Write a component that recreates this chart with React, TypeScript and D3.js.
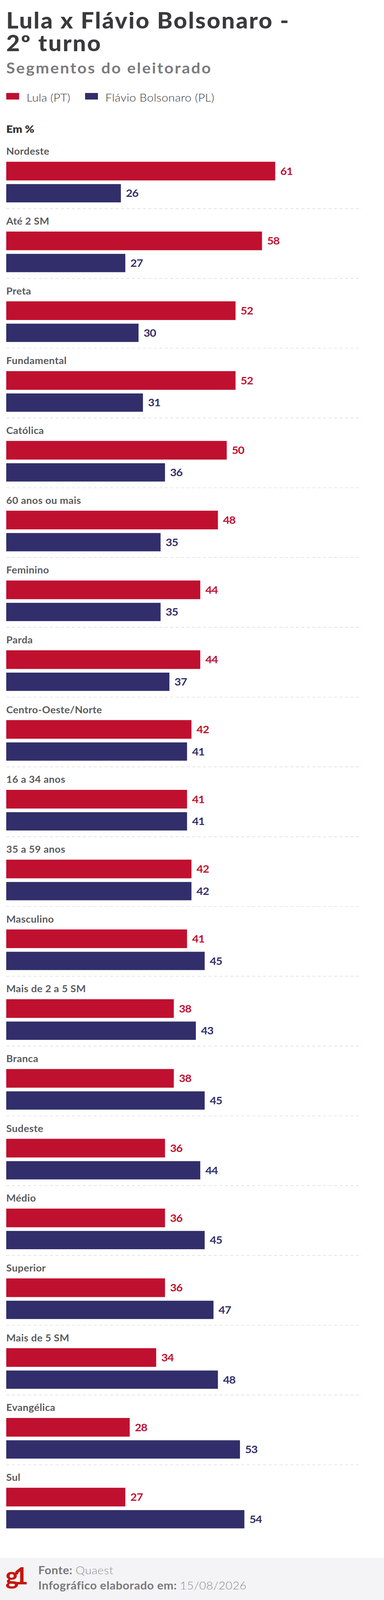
import { useRef, useEffect } from "react";
import * as d3 from "d3";

const categories = [
  "Nordeste", "Até 2 SM", "Preta", "Fundamental", "Católica", "60 anos ou mais",
  "Feminino", "Parda", "Centro-Oeste/Norte", "16 a 34 anos", "35 a 59 anos",
  "Masculino", "Mais de 2 a 5 SM", "Branca", "Sudeste", "Médio", "Superior",
  "Mais de 5 SM", "Evangélica", "Sul",
];
const lulaValues = [61, 58, 52, 52, 50, 48, 44, 44, 42, 41, 42, 41, 38, 38, 36, 36, 36, 34, 28, 27];
const flavioValues = [26, 27, 30, 31, 36, 35, 35, 37, 41, 41, 42, 45, 43, 45, 44, 45, 47, 48, 53, 54];
const seriesNames = ["Lula (PT)", "Flávio Bolsonaro (PL)"];
const seriesColors = ["#c0102f", "#312e6b"];

const W = 984;
const H = 4372;
const FONT = "Lato, 'Open Sans', sans-serif";

// stretch a text to a target width with letter-spacing
function fit(sel: any, target: number) {
  const node = sel.node() as SVGTextElement;
  const w = node.getComputedTextLength();
  const n = (node.textContent || "").length;
  if (n > 1) sel.attr("letter-spacing", (target - w) / (n - 1));
  return sel;
}

export default function App() {
  const svgRef = useRef(null);
  // the browser caps the viewport height, so the drawing is fitted into what is visible
  const viewH = Math.min(H, (typeof window !== "undefined" && window.innerHeight) || H);

  useEffect(() => {
    document.body.style.margin = "0";
    document.body.style.overflow = "hidden";
    const svg = d3.select(svgRef.current);
    svg.selectAll("*").remove();

    // titles
    const head = svg.append("g").attr("font-family", FONT);
    fit(head.append("text").attr("x", 16).attr("y", 78)
      .attr("font-size", 60).attr("font-weight", 900).attr("fill", "#3a3a3c")
      .text("Lula x Flávio Bolsonaro -"), 724);
    fit(head.append("text").attr("x", 16).attr("y", 140)
      .attr("font-size", 60).attr("font-weight", 900).attr("fill", "#3a3a3c")
      .text("2º turno"), 242);
    fit(head.append("text").attr("x", 16).attr("y", 201)
      .attr("font-size", 41).attr("font-weight", 700).attr("fill", "#7b7b7d")
      .text("Segmentos do eleitorado"), 524);

    // legend
    const legendX = [16, 218];
    const legendW = [112, 279];
    const legend = head.append("g");
    seriesNames.forEach((name, i) => {
      legend.append("rect").attr("x", legendX[i]).attr("y", 254).attr("width", 33).attr("height", 18)
        .attr("fill", seriesColors[i]);
      fit(legend.append("text").attr("x", legendX[i] + 52).attr("y", 278)
        .attr("font-size", 30).attr("font-weight", 300).attr("fill", "#333")
        .text(name), legendW[i]);
    });

    fit(head.append("text").attr("x", 16).attr("y", 363)
      .attr("font-size", 29).attr("font-weight", 800).attr("fill", "#333")
      .text("Em %"), 72);

    // chart
    const x = d3.scaleLinear().domain([0, 100]).range([16, 1146]);
    const y = d3.scaleBand().domain(categories).range([400, 400 + categories.length * 190.7]);

    const rows = categories.map((c, i) => ({ c, vals: [lulaValues[i], flavioValues[i]], i }));

    const g = svg.append("g").attr("font-family", FONT)
      .selectAll("g.row").data(rows).join("g")
      .attr("class", "row")
      .attr("transform", (d) => `translate(0,${y(d.c)})`);

    g.append("text").attr("x", 16).attr("y", 23)
      .attr("font-size", 26).attr("font-weight", 700).attr("fill", "#5a5a5c")
      .attr("letter-spacing", 0.4)
      .text((d) => d.c);

    const barTops = [42, 103];
    const barH = [51, 50];

    g.selectAll("rect.bar")
      .data((d) => d.vals.map((v, k) => ({ v, k })))
      .join("rect")
      .attr("class", "bar")
      .attr("x", x(0))
      .attr("y", (d) => barTops[d.k])
      .attr("height", (d) => barH[d.k])
      .attr("width", (d) => x(d.v) - x(0))
      .attr("fill", (d) => seriesColors[d.k]);

    g.selectAll("text.val")
      .data((d) => d.vals.map((v, k) => ({ v, k })))
      .join("text")
      .attr("class", "val")
      .attr("x", (d) => x(d.v) + 13)
      .attr("y", (d) => barTops[d.k] + barH[d.k] / 2 + 10.5)
      .attr("font-size", 29).attr("font-weight", 700)
      .attr("letter-spacing", -1)
      .attr("fill", (d) => seriesColors[d.k])
      .text((d) => d.v);

    g.filter((d) => d.i < categories.length - 1)
      .append("line")
      .attr("x1", 16).attr("x2", 927)
      .attr("y1", 170).attr("y2", 170)
      .attr("stroke", "#dcdcdc").attr("stroke-width", 1.5)
      .attr("stroke-dasharray", "8,6");

    // footer
    const foot = svg.append("g").attr("font-family", FONT);
    foot.append("rect").attr("x", 0).attr("y", 4257).attr("width", W).attr("height", H - 4257)
      .attr("fill", "#f4f3f5");
    fit(foot.append("text").attr("x", 14).attr("y", 4329)
      .attr("font-size", 64).attr("font-weight", 900).attr("fill", "#c4170c")
      .text("g1"), 58);
    const f1 = foot.append("text").attr("x", 98).attr("y", 4302).attr("font-size", 30);
    f1.append("tspan").attr("font-weight", 700).attr("fill", "#79787b").text("Fonte: ");
    f1.append("tspan").attr("font-weight", 300).attr("fill", "#8e8d90").text("Quaest");
    fit(f1, 192);
    const f2 = foot.append("text").attr("x", 98).attr("y", 4343).attr("font-size", 30);
    f2.append("tspan").attr("font-weight", 700).attr("fill", "#79787b").text("Infográfico elaborado em: ");
    f2.append("tspan").attr("font-weight", 300).attr("fill", "#8e8d90").text("15/08/2026");
    fit(f2, 533);
  }, []);

  return (
    <svg ref={svgRef} width={W} height={viewH} viewBox={`0 0 ${W} ${H}`}
      preserveAspectRatio="none" style={{ display: "block", background: "#fff" }}></svg>
  );
}
